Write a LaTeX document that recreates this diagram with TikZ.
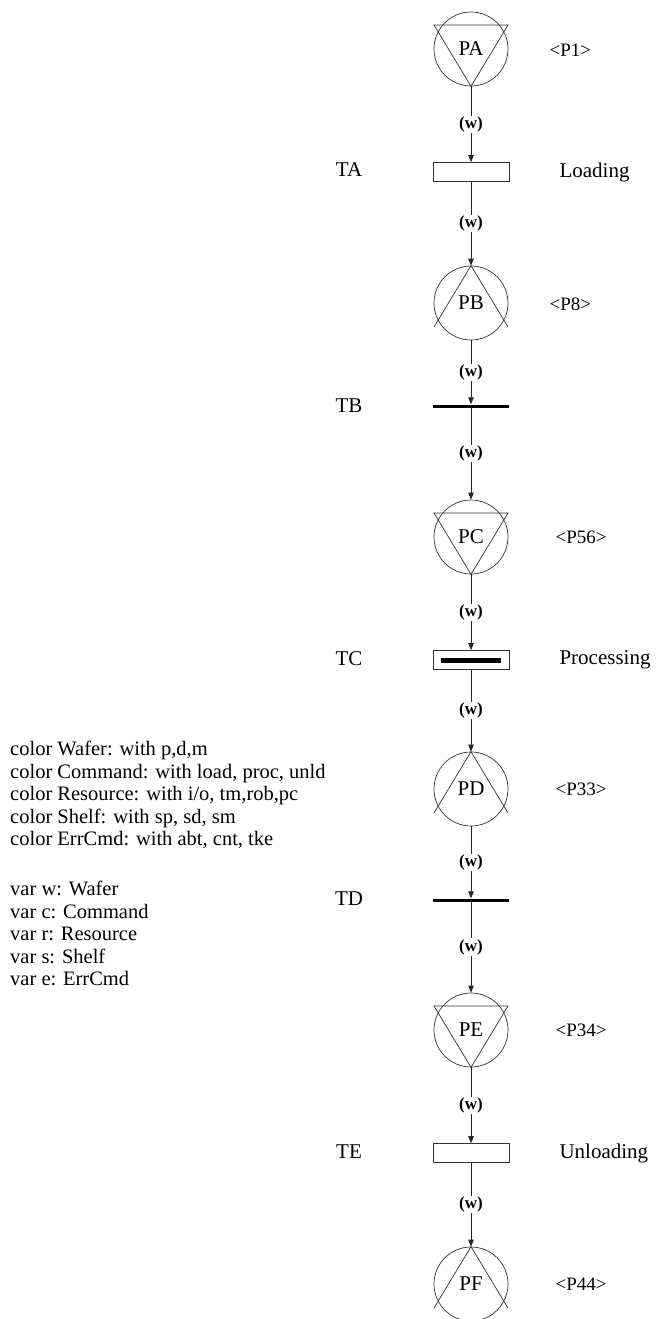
\documentclass[tikz,border=0pt]{standalone}
\usepackage{fontspec}
\setmainfont{Liberation Serif}
\usetikzlibrary{arrows.meta,calc}
\begin{document}
\begin{tikzpicture}[x=1pt,y=-1pt,
  every node/.style={font=\fontsize{21}{24}\selectfont},
  place/.style={circle,draw=black!80,line width=0.7pt,minimum size=74pt,inner sep=0pt},
  trbox/.style={rectangle,draw=black!80,line width=0.7pt,minimum width=76pt,minimum height=19pt,inner sep=0pt},
  trbar/.style={rectangle,fill=black,minimum width=76pt,minimum height=3pt,inner sep=0pt},
  arc/.style={draw=black!85,line width=0.7pt,-{Triangle[length=7pt,width=5.5pt]}},
  lbl/.style={fill=white,inner sep=1pt,font=\fontsize{17}{19}\bfseries},
  tri/.style={draw=black!80,line width=0.7pt},
  pmark/.style={anchor=west,font=\fontsize{19}{22}\selectfont},
  decl/.style={anchor=north west,align=left,inner sep=0pt,font=\fontsize{20.5}{22.5}\selectfont}
]
\useasboundingbox[fill=white] (0,0) rectangle (656,1319);
% places
\node[place] (PA) at (471,49) {PA};
\node[place] (PB) at (471,303) {PB};
\node[place] (PC) at (471,537) {PC};
\node[place] (PD) at (471,789) {PD};
\node[place] (PE) at (471,1030) {PE};
\node[place] (PF) at (471,1284) {PF};
% triangles
\draw[tri] ($(PA)+(-37,-24)$) -- ($(PA)+(37,-24)$) -- (PA.south) -- cycle;
\draw[tri] ($(PC)+(-37,-24)$) -- ($(PC)+(37,-24)$) -- (PC.south) -- cycle;
\draw[tri] ($(PE)+(-37,-24)$) -- ($(PE)+(37,-24)$) -- (PE.south) -- cycle;
\draw[tri] ($(PB)+(-37,24)$) -- (PB.north) -- ($(PB)+(37,24)$);
\draw[tri] ($(PD)+(-37,24)$) -- (PD.north) -- ($(PD)+(37,24)$);
\draw[tri] ($(PF)+(-37,24)$) -- (PF.north) -- ($(PF)+(37,24)$);
% transitions
\node[trbox] (TA) at (471,172) {};
\node[trbar] (TB) at (471,406) {};
\node[trbox] (TC) at (471,660) {};
\fill ($(TC)+(-30,-2.5)$) rectangle ($(TC)+(30,2.5)$);
\node[trbar] (TD) at (471,900) {};
\node[trbox] (TE) at (471,1153) {};
% transition names
\node (lTA) at (349,170) {TA};
\node (lTB) at (349,406) {TB};
\node (lTC) at (349,659) {TC};
\node (lTD) at (349,899) {TD};
\node (lTE) at (349,1152) {TE};
\node[anchor=west] (nTA) at (556,172) {Loading};
\node[anchor=west] (nTC) at (556,660) {Processing};
\node[anchor=west] (nTE) at (556,1153) {Unloading};
% place markings
\node[pmark] (mA) at (546,50) {\textless P1\textgreater};
\node[pmark] (mB) at (546,304) {\textless P8\textgreater};
\node[pmark] (mC) at (552,537) {\textless P56\textgreater};
\node[pmark] (mD) at (552,789) {\textless P33\textgreater};
\node[pmark] (mE) at (552,1030) {\textless P34\textgreater};
\node[pmark] (mF) at (552,1284) {\textless P44\textgreater};
% arcs
\draw[arc] (PA) -- (TA) node[lbl,midway] {(w)};
\draw[arc] (TA) -- (PB) node[lbl,midway] {(w)};
\draw[arc] (PB) -- (TB) node[lbl,midway] {(w)};
\draw[arc] (TB) -- (PC) node[lbl,midway] {(w)};
\draw[arc] (PC) -- (TC) node[lbl,midway] {(w)};
\draw[arc] (TC) -- (PD) node[lbl,midway] {(w)};
\draw[arc] (PD) -- (TD) node[lbl,midway] {(w)};
\draw[arc] (TD) -- (PE) node[lbl,midway] {(w)};
\draw[arc] (PE) -- (TE) node[lbl,midway] {(w)};
\draw[arc] (TE) -- (PF) node[lbl,midway] {(w)};
% declarations
\node[decl] (colors) at (10,741) {color Wafer: with p,d,m\\
color Command: with load, proc, unld\\
color Resource: with i/o, tm,rob,pc\\
color Shelf: with sp, sd, sm\\
color ErrCmd: with abt, cnt, tke};
\node[decl] (vars) at (10,881) {var w: Wafer\\
var c: Command\\
var r: Resource\\
var s: Shelf\\
var e: ErrCmd};
\end{tikzpicture}
\end{document}
